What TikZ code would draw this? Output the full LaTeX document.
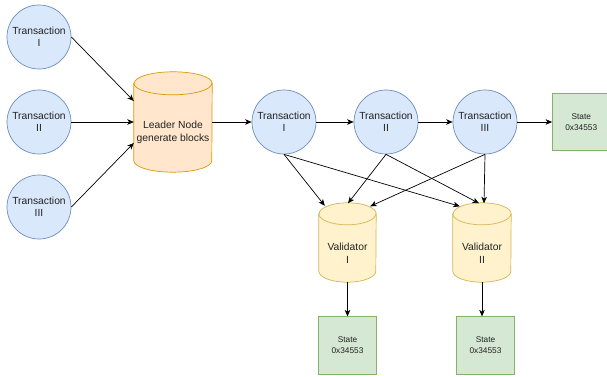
\documentclass[tikz,border=0pt]{standalone}
\usepackage{fontspec}
\setmainfont{Liberation Sans}
\usetikzlibrary{arrows.meta,calc}
\definecolor{bluefill}{HTML}{DAE8FC}
\definecolor{bluedraw}{HTML}{6C8EBF}
\definecolor{orangefill}{HTML}{FFE6CC}
\definecolor{orangedraw}{HTML}{D79B00}
\definecolor{yellowfill}{HTML}{FFF2CC}
\definecolor{yellowdraw}{HTML}{D6B656}
\definecolor{greenfill}{HTML}{D5E8D4}
\definecolor{greendraw}{HTML}{82B366}
\definecolor{txt}{HTML}{222222}
\newcommand\drawcyl[5]{%
  \path[fill=#4,draw=#5,line width=0.7pt]
    ($(#1.north west)+(0,#3)$) -- ($(#1.south west)+(0,-#3)$)
    arc[start angle=180,end angle=0,x radius=#2,y radius=#3]
    -- ($(#1.north east)+(0,#3)$)
    arc[start angle=0,end angle=-180,x radius=#2,y radius=#3] -- cycle;
  \draw[draw=#5,line width=0.7pt] ($(#1.north west)+(0,#3)$)
    arc[start angle=180,end angle=0,x radius=#2,y radius=#3];}
\begin{document}
\begin{tikzpicture}[x=1pt,y=-1pt,
  tx/.style={circle,fill=bluefill,draw=bluedraw,line width=0.7pt,minimum size=64pt,inner sep=0pt,
    align=center,text=txt,font=\fontsize{10.3}{12}\selectfont},
  cylbox/.style={rectangle,inner sep=0pt,draw=none},
  cyltext/.style={align=center,text=txt,inner sep=0pt,font=\fontsize{10.3}{12.5}\selectfont},
  statebox/.style={rectangle,fill=greenfill,draw=greendraw,line width=0.7pt,minimum width=57.5pt,
    minimum height=57.5pt,inner sep=0pt,align=center,text=txt,font=\fontsize{8.3}{11}\selectfont},
  edge/.style={draw=black,line width=0.7pt,-{Stealth[length=6.5pt,width=5.5pt,inset=1.8pt]}}]
\clip (0,0) rectangle (607,377);
\fill[white] (0,0) rectangle (607,377);
% left transactions
\node[tx] (a1) at (39,37) {Transaction\\I};
\node[tx] (a2) at (39,122) {Transaction\\II};
\node[tx] (a3) at (39,207) {Transaction\\III};
% leader cylinder
\node[cylbox,minimum width=78pt,minimum height=100pt] (lead) at (173,122) {};
\drawcyl{lead}{39}{11.5}{orangefill}{orangedraw}
\node[cyltext] (leadtext) at (173,132.5) {Leader Node\\generate blocks};
% chain transactions
\node[tx] (b1) at (284,122) {Transaction\\I};
\node[tx] (b2) at (386,122) {Transaction\\II};
\node[tx] (b3) at (485,122) {Transaction\\III};
\node[statebox] (s0) at (581.25,122) {State\\0x34553};
% validators
\node[cylbox,minimum width=57pt,minimum height=79pt] (v1) at (347.5,242.5) {};
\drawcyl{v1}{28.5}{11}{yellowfill}{yellowdraw}
\node[cyltext] (v1text) at (347.5,253.5) {Validator\\I};
\node[cylbox,minimum width=58pt,minimum height=79pt] (v2) at (482,242.5) {};
\drawcyl{v2}{29}{11}{yellowfill}{yellowdraw}
\node[cyltext] (v2text) at (482,253.5) {Validator\\II};
\node[statebox] (s1) at (347.5,345.5) {State\\0x34553};
\node[statebox] (s2) at (485.5,345.5) {State\\0x34553};
% edges into leader
\draw[edge] (a1.east) -- ($(lead.west)+(0,-21)$);
\draw[edge] (a2.east) -- (lead.west);
\draw[edge] (a3.east) -- ($(lead.west)+(0,21)$);
% chain
\draw[edge] (lead.east) -- (b1.west);
\draw[edge] (b1.east) -- (b2.west);
\draw[edge] (b2.east) -- (b3.west);
\draw[edge] (b3.east) -- (s0.west);
% to validators
\draw[edge] (b1.south) -- ($(v1.north west)+(6,3)$);
\draw[edge] (b1.south) -- ($(v2.north west)+(7,3.5)$);
\draw[edge] (b2.south) -- ($(v1.north)+(0.5,0.5)$);
\draw[edge] (b2.south) -- ($(v2.north)+(-3,0.5)$);
\draw[edge] (b3.south) -- ($(v1.north east)+(-6,3.5)$);
\draw[edge] (b3.south) -- ($(v2.north)+(2,0.5)$);
% to states
\draw[edge] (v1.south) -- (s1.north);
\draw[edge] (v2.south) -- (v2.south |- s2.north);
\end{tikzpicture}
\end{document}
